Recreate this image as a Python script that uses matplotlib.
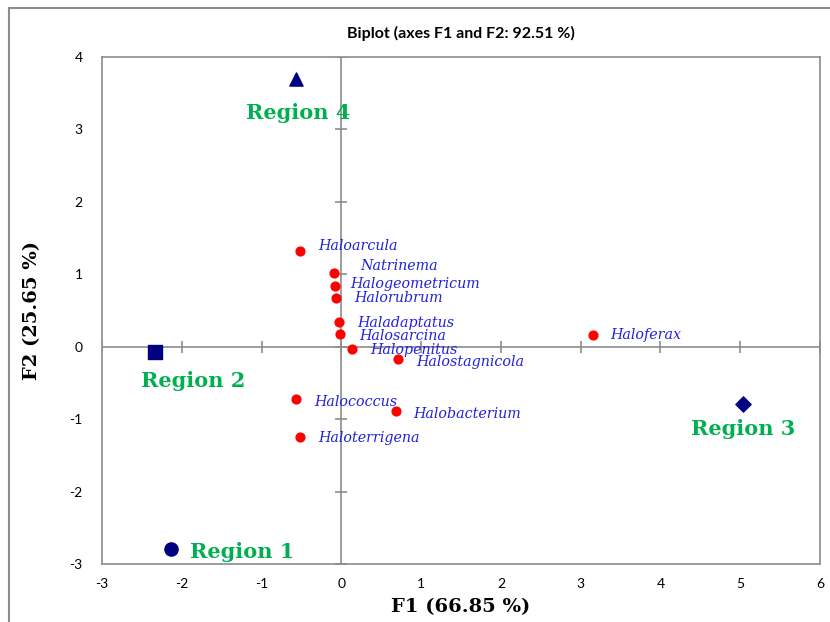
import matplotlib
matplotlib.use('agg')
import matplotlib.pyplot as plt
from matplotlib.patches import Rectangle

plt.rcParams['axes.unicode_minus'] = False

# observations (regions)
regions = ['Region 1', 'Region 2', 'Region 3', 'Region 4']
region_x = [-2.13, -2.34, 5.03, -0.57]
region_y = [-2.79, -0.07, -0.79, 3.70]
region_markers = ['o', 's', 'D', '^']

# variables (genera)
genera = ['Haloarcula', 'Natrinema', 'Halogeometricum', 'Halorubrum',
          'Haladaptatus', 'Halosarcina', 'Halopenitus', 'Halostagnicola',
          'Haloferax', 'Halococcus', 'Halobacterium', 'Haloterrigena']
genus_x = [-0.52, -0.09, -0.08, -0.07, -0.03, -0.02, 0.13, 0.71,
           3.15, -0.57, 0.68, -0.52]
genus_y = [1.32, 1.02, 0.84, 0.67, 0.34, 0.17, -0.03, -0.17,
           0.16, -0.72, -0.89, -1.24]

x_ticks = list(range(-3, 7))
y_ticks = list(range(-3, 5))

# label offsets in points (dx, dy)
genus_off = [(13, 4), (19, 5), (11, 1), (13, 0), (13, -1), (14, -1),
             (13, -1), (13, -2), (13, 0), (13, -2), (13, -2), (13, -1)]
region_off = [(51, -2), (28, -21), (0, -18), (2, -25)]

sans = ['Lato', 'DejaVu Sans']
serif = ['DejaVu Serif']

fig = plt.figure(figsize=(8.3, 6.22), dpi=100)
fig.patches.append(Rectangle((0.0108, -0.1), 1.2, 1.087, transform=fig.transFigure,
                             fill=False, edgecolor='#8c8c8c', linewidth=1.5))
ax = fig.add_axes([0.1229, 0.0932, 0.8651, 0.8152])

ax.set_xlim(-3, 6)
ax.set_ylim(-3, 4)
for s in ax.spines.values():
    s.set_color('#8c8c8c')
    s.set_linewidth(1.2)

ax.axhline(0, color='#8c8c8c', lw=1.2, zorder=1)
ax.axvline(0, color='#8c8c8c', lw=1.2, zorder=1)
ax.plot(x_ticks, [0] * len(x_ticks), ls='none', marker='|', ms=9,
        mew=1.2, color='#8c8c8c', zorder=1)
ax.plot([0] * len(y_ticks), y_ticks, ls='none', marker='_', ms=9,
        mew=1.2, color='#8c8c8c', zorder=1)

ax.set_xticks(x_ticks)
ax.set_yticks(y_ticks)
ax.tick_params(length=0, labelsize=10, pad=10)
ax.tick_params(axis='y', pad=14)
for lab in ax.get_xticklabels() + ax.get_yticklabels():
    lab.set_family(sans)

ax.scatter(genus_x, genus_y, s=40, color='#ff0000', zorder=3)
for name, x, y, (dx, dy) in zip(genera, genus_x, genus_y, genus_off):
    ax.annotate(name, (x, y), xytext=(dx, dy), textcoords='offset points',
                ha='left', va='center', color='#2222dd', fontsize=10.3,
                style='italic', family=serif)

for name, x, y, m, (dx, dy) in zip(regions, region_x, region_y, region_markers, region_off):
    ax.scatter([x], [y], marker=m, s=90 if m != 'D' else 60, color='#000080', zorder=3)
    ax.annotate(name, (x, y), xytext=(dx, dy), textcoords='offset points',
                ha='center', va='center', color='#00b050', fontsize=15,
                fontweight='bold', family=serif)

ax.set_title('Biplot (axes F1 and F2: 92.51 %)', fontsize=11.5, fontweight='bold',
             family=sans, pad=14)
ax.set_xlabel('F1 (66.85 %)', fontsize=14, fontweight='bold', family=serif, labelpad=6)
ax.set_ylabel('F2 (25.65 %)', fontsize=14, fontweight='bold', family=serif, labelpad=20)

fig.savefig('out.png', dpi=100)
